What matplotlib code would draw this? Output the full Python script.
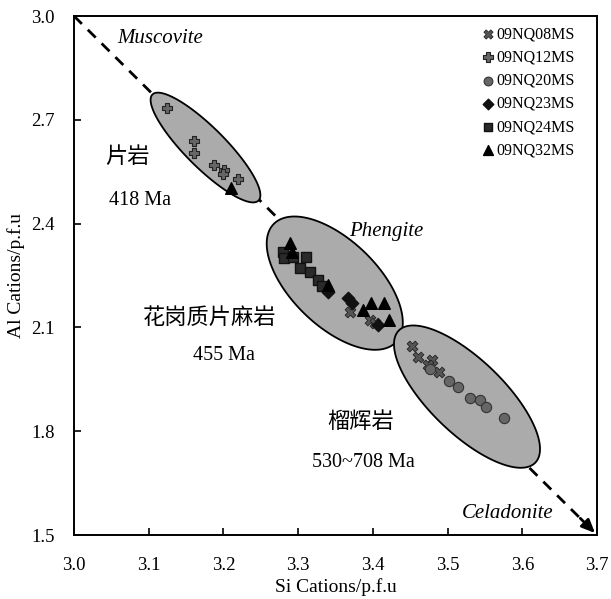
import numpy as np
import matplotlib.pyplot as plt
from matplotlib.patches import Polygon

SERIF = ['Liberation Serif', 'Noto Sans CJK SC']
plt.rcParams['font.family'] = SERIF

# sample data (Si, Al cations p.f.u.)
nq08_si = [3.369, 3.396, 3.403, 3.453, 3.461, 3.479, 3.474, 3.488]
nq08_al = [2.145, 2.121, 2.113, 2.046, 2.015, 2.006, 1.991, 1.972]

nq12_si = [3.124, 3.161, 3.160, 3.188, 3.201, 3.199, 3.219]
nq12_al = [2.733, 2.640, 2.605, 2.569, 2.555, 2.543, 2.528]

nq20_si = [3.477, 3.502, 3.514, 3.530, 3.543, 3.552, 3.576]
nq20_al = [1.979, 1.945, 1.929, 1.897, 1.890, 1.869, 1.837]

nq23_si = [3.336, 3.340, 3.367, 3.372, 3.407]
nq23_al = [2.214, 2.202, 2.185, 2.171, 2.107]

nq24_si = [3.280, 3.281, 3.293, 3.311, 3.303, 3.316, 3.327, 3.332]
nq24_al = [2.318, 2.301, 2.303, 2.303, 2.272, 2.260, 2.237, 2.220]

nq32_si = [3.210, 3.289, 3.292, 3.340, 3.387, 3.398, 3.415, 3.422]
nq32_al = [2.502, 2.344, 2.318, 2.223, 2.150, 2.171, 2.171, 2.121]

# ellipse groups: centre (data), semi-axes (px), angle (deg)
ell_centers = [(3.176, 2.620), (3.349, 2.228), (3.526, 1.900)]
ell_axes = [(75, 20), (85, 43), (95, 37)]
ell_angles = [-45, -44, -44]

fig = plt.figure(figsize=(6.11, 5.99), dpi=100)
ax = fig.add_axes([0.1211, 0.1068, 0.856, 0.8664])
ax.set_xlim(3.0, 3.7)
ax.set_ylim(1.5, 3.0)

# pixel -> data scale
sx = 0.7 / (0.856 * 611)
sy = 1.5 / (0.8664 * 599)

# trend line with arrow
ax.plot([3.0, 3.688], [3.0, 1.526], ls=(0, (4, 3)), color='black', lw=2, zorder=1)
ax.annotate('', xy=(3.7, 1.5), xytext=(3.675, 1.554),
            arrowprops=dict(arrowstyle='-|>,head_length=0.8,head_width=0.35',
                            color='black', lw=2), zorder=2)

t = np.linspace(0, 2 * np.pi, 200)
for (cx, cy), (a, b), ang in zip(ell_centers, ell_axes, ell_angles):
    th = np.radians(ang)
    u = a * np.cos(t)
    v = b * np.sin(t)
    xs = cx + (u * np.cos(th) - v * np.sin(th)) * sx
    ys = cy + (u * np.sin(th) + v * np.cos(th)) * sy
    ax.add_patch(Polygon(np.column_stack([xs, ys]), closed=True,
                         facecolor='#ababab', edgecolor='black', lw=1.3, zorder=3))

ax.scatter(nq08_si, nq08_al, marker='X', s=60, c='#555555', edgecolors='#222222',
           linewidths=0.6, label='09NQ08MS', zorder=5)
ax.scatter(nq12_si, nq12_al, marker='P', s=60, c='#666666', edgecolors='#222222',
           linewidths=0.8, label='09NQ12MS', zorder=5)
ax.scatter(nq20_si, nq20_al, marker='o', s=55, c='#666666', edgecolors='#333333',
           linewidths=0.8, label='09NQ20MS', zorder=5)
ax.scatter(nq23_si, nq23_al, marker='D', s=40, c='#111111', edgecolors='#111111',
           label='09NQ23MS', zorder=5)
ax.scatter(nq24_si, nq24_al, marker='s', s=55, c='#2a2a2a', edgecolors='#111111',
           label='09NQ24MS', zorder=5)
ax.scatter(nq32_si, nq32_al, marker='^', s=70, c='black', edgecolors='black',
           label='09NQ32MS', zorder=6)

leg = ax.legend(loc='upper right', frameon=False, fontsize=11.5, handletextpad=0.0,
                labelspacing=0.45, borderaxespad=0, borderpad=0, handlelength=1.1,
                bbox_to_anchor=(0.958, 0.98), markerscale=0.85)

ita = dict(fontsize=15, style='italic', ha='center', va='center')
ax.text(3.115, 2.936, 'Muscovite', **ita)
ax.text(3.418, 2.376, 'Phengite', **ita)
ax.text(3.581, 1.561, 'Celadonite', **ita)

lat = dict(fontsize=14.5, ha='center', va='center')
cjk = dict(fontsize=16, ha='center', va='center', fontweight='light')
ax.text(3.072, 2.590, '片岩', **cjk)
ax.text(3.088, 2.468, '418 Ma', **lat)
ax.text(3.182, 2.127, '花岗质片麻岩', **cjk)
ax.text(3.201, 2.020, '455 Ma', **lat)
ax.text(3.383, 1.824, '榴辉岩', **cjk)
ax.text(3.387, 1.711, '530~708 Ma', **lat)

ax.set_xticks(np.arange(3.0, 3.71, 0.1))
ax.set_yticks(np.arange(1.5, 3.01, 0.3))
ax.xaxis.set_major_formatter(plt.FormatStrFormatter('%.1f'))
ax.yaxis.set_major_formatter(plt.FormatStrFormatter('%.1f'))
ax.tick_params(direction='in', length=5, width=1.2, labelsize=13.5)
ax.tick_params(axis='x', pad=16)
ax.tick_params(axis='y', pad=14)
for s in ax.spines.values():
    s.set_linewidth(1.4)

ax.set_xlabel('Si Cations/p.f.u', fontsize=14, labelpad=3)
ax.set_ylabel('Al Cations/p.f.u', fontsize=14, labelpad=4)

plt.savefig('out.png', dpi=100)
